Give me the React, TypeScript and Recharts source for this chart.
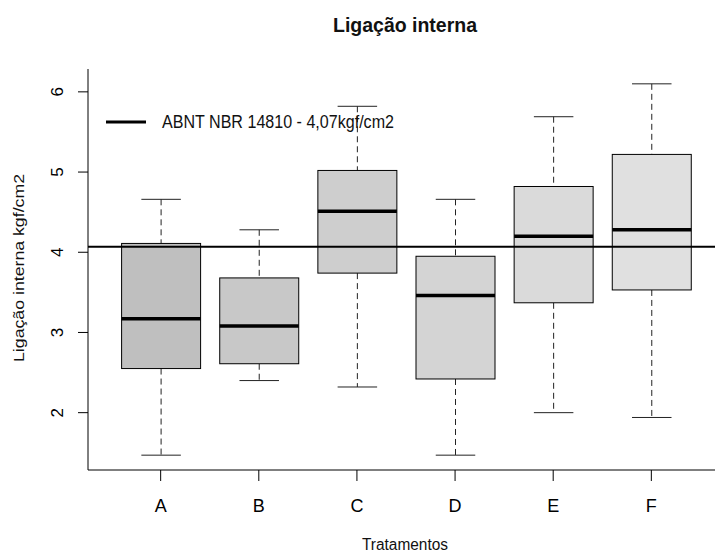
import React from 'react';
import { ComposedChart, Bar, XAxis, YAxis, ReferenceLine, Legend } from 'recharts';

// boxplot stats per treatment
const categories = ['A', 'B', 'C', 'D', 'E', 'F'];
const minValues = [1.47, 2.40, 2.32, 1.47, 2.00, 1.94];
const q1Values = [2.55, 2.61, 3.74, 2.42, 3.37, 3.53];
const medianValues = [3.17, 3.08, 4.51, 3.46, 4.20, 4.28];
const q3Values = [4.11, 3.68, 5.02, 3.95, 4.82, 5.22];
const maxValues = [4.66, 4.28, 5.82, 4.66, 5.69, 6.10];
const yTicks = [2, 3, 4, 5, 6];
const referenceValue = 4.07;
const referenceLabel = 'ABNT NBR 14810 - 4,07kgf/cm2';

const boxFills = ['#bfbfbf', '#c8c8c8', '#cecece', '#d4d4d4', '#dadada', '#e0e0e0'];
const FONT = '"Liberation Sans", Arial, sans-serif';

const data = categories.map((name, i) => ({
  name,
  min: minValues[i],
  q1: q1Values[i],
  median: medianValues[i],
  q3: q3Values[i],
  max: maxValues[i],
  fill: boxFills[i],
}));

const BoxShape = (props: any) => {
  const { x, y, width, height, payload } = props;
  if (!payload || !height) return null;
  const unit = height / (payload.max - payload.min);
  const py = (v: number) => y + (payload.max - v) * unit;
  const cx = x + width / 2;
  const staple = width / 4;
  return (
    <g>
      <line x1={cx} x2={cx} y1={py(payload.max)} y2={py(payload.q3)} stroke="#222" strokeDasharray="6 4" />
      <line x1={cx} x2={cx} y1={py(payload.q1)} y2={py(payload.min)} stroke="#222" strokeDasharray="6 4" />
      <line x1={cx - staple} x2={cx + staple} y1={py(payload.max)} y2={py(payload.max)} stroke="#222" />
      <line x1={cx - staple} x2={cx + staple} y1={py(payload.min)} y2={py(payload.min)} stroke="#222" />
      <rect x={x} y={py(payload.q3)} width={width} height={py(payload.q1) - py(payload.q3)} fill={payload.fill} stroke="#000" />
      <line x1={x} x2={x + width} y1={py(payload.median)} y2={py(payload.median)} stroke="#000" strokeWidth={3.5} />
    </g>
  );
};

const XTick = ({ x, y, payload }: any) => (
  <text x={x} y={y + 31} textAnchor="middle" fontFamily={FONT} fontSize={18} fill="#000">
    {payload.value}
  </text>
);

const YTick = ({ x, y, payload }: any) => (
  <text x={x - 15} y={y} textAnchor="middle" fontFamily={FONT} fontSize={17} fill="#000"
    transform={`rotate(-90, ${x - 15}, ${y})`}>
    {payload.value}
  </text>
);

const LegendContent = () => (
  <svg width={380} height={30} style={{ display: 'block', overflow: 'visible' }}>
    <line x1={6} x2={46} y1={14} y2={14} stroke="#000" strokeWidth={3} />
    <text x={62} y={20} fontFamily={FONT} fontSize={18} textLength={232} lengthAdjust="spacingAndGlyphs" fill="#111">
      {referenceLabel}
    </text>
  </svg>
);

export default function App() {
  return (
    <div style={{ position: 'fixed', left: 0, top: 0, width: 715, height: 555, overflow: 'hidden', background: '#fff' }}>
      <ComposedChart width={740} height={555} data={data} margin={{ top: 69, right: 16, bottom: 0, left: 0 }}>
        <XAxis
          dataKey="name"
          type="category"
          padding={{ left: 23.6, right: 23.6 }}
          height={85}
          tickSize={11}
          tickMargin={0}
          tick={<XTick />}
          tickLine={{ stroke: '#000' }}
          axisLine={{ stroke: '#000' }}
        />
        <XAxis xAxisId="top" dataKey="name" orientation="top" height={0} tick={false} tickLine={false} axisLine={{ stroke: '#000' }} />
        <YAxis
          domain={[1.285, 6.285]}
          ticks={yTicks}
          width={88}
          tickSize={10}
          tickMargin={0}
          tick={<YTick />}
          tickLine={{ stroke: '#000' }}
          axisLine={{ stroke: '#000' }}
        />
        <Bar dataKey={(d: any) => [d.min, d.max]} barSize={79} shape={<BoxShape />} isAnimationActive={false} />
        <ReferenceLine y={referenceValue} stroke="#000" strokeWidth={2} />
        <Legend
          layout="horizontal"
          verticalAlign="middle"
          align="center"
          content={<LegendContent />}
          wrapperStyle={{ position: 'absolute', left: 100, top: 108, width: 380, height: 30 }}
        />
      </ComposedChart>
      <svg width={715} height={555} style={{ position: 'absolute', left: 0, top: 0, pointerEvents: 'none' }}>
        <text x={405} y={32} textAnchor="middle" fontFamily={FONT} fontWeight="bold" fontSize={20} textLength={144}
          lengthAdjust="spacingAndGlyphs" fill="#111">
          Ligação interna
        </text>
        <text x={405} y={550} textAnchor="middle" fontFamily={FONT} fontSize={16} textLength={86}
          lengthAdjust="spacingAndGlyphs" fill="#111">
          Tratamentos
        </text>
        <text x={24} y={268} textAnchor="middle" fontFamily={FONT} fontSize={14} textLength={188}
          lengthAdjust="spacingAndGlyphs" fill="#111" transform="rotate(-90, 24, 268)">
          Ligação interna kgf/cm2
        </text>
      </svg>
    </div>
  );
}
